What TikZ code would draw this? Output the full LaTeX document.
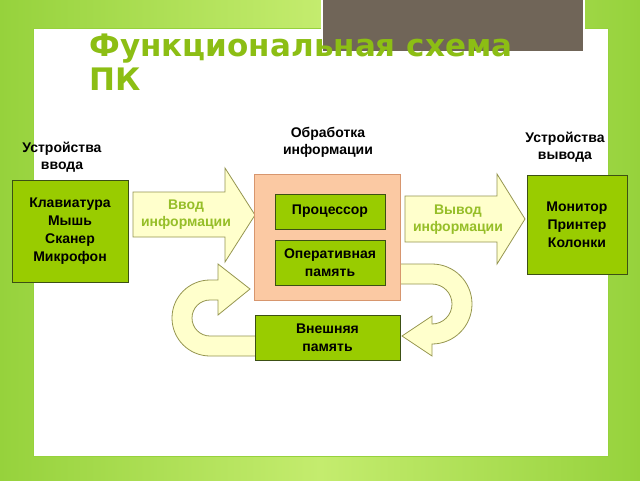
\documentclass[tikz,border=0pt]{standalone}
\usepackage{fontspec}
\setmainfont{Liberation Sans}
\newfontfamily\titlefont{DejaVu Sans}
\usetikzlibrary{positioning}
\definecolor{limeBg}{RGB}{196,236,110}
\definecolor{limeEdge}{RGB}{150,210,60}
\definecolor{boxGreen}{RGB}{153,204,0}
\definecolor{boxBorder}{RGB}{60,80,20}
\definecolor{titleGreen}{RGB}{140,190,20}
\definecolor{arrowFill}{RGB}{255,255,204}
\definecolor{arrowBorder}{RGB}{150,150,80}
\definecolor{arrowText}{RGB}{150,190,40}
\definecolor{peach}{RGB}{251,201,163}
\definecolor{peachBorder}{RGB}{215,150,110}
\definecolor{taupe}{RGB}{112,101,88}
\tikzstyle{greenBox} = [draw=boxBorder, fill=boxGreen, thick, font=\bfseries\fontsize{14}{18}\selectfont, align=center, inner sep=0pt]
\tikzstyle{bigArrow} = [draw=arrowBorder, fill=arrowFill, thick, line join=miter]
\tikzstyle{arrowLabel} = [color=arrowText, font=\bfseries\fontsize{14}{17}\selectfont, align=center]
\tikzstyle{heading} = [font=\bfseries\fontsize{14}{17}\selectfont, align=center]
\begin{document}
\begin{tikzpicture}[x=1pt, y=-1pt]
  \useasboundingbox (0,0) rectangle (640,480);
  % background
  \shade[left color=limeEdge, right color=limeEdge, middle color=limeBg] (0,0) rectangle (640,480);
  \filldraw[fill=white, draw=limeEdge, thick] (33,28) rectangle (608,456);
  \filldraw[fill=taupe, draw=white, line width=2pt] (322,-2) rectangle (584,52);
  \node[anchor=west, color=titleGreen, font=\titlefont\bfseries\fontsize{31}{34}\selectfont, align=left] (title) at (86,62) {Функциональная схема\\ПК};

  % headings
  \node[heading] (inHead) at (62,157) {Устройства\\ввода};
  \node[heading] (procHead) at (328,142) {Обработка\\информации};
  \node[heading] (outHead) at (565,147) {Устройства\\вывода};

  % input / output devices
  \node[greenBox, minimum width=116, minimum height=102] (input) at (70,231) {Клавиатура\\Мышь\\Сканер\\Микрофон};
  \node[greenBox, minimum width=100, minimum height=99] (output) at (577,224.5) {Монитор\\Принтер\\Колонки};

  % big arrows
  \draw[bigArrow] (133,192) -- (225,192) -- (225,168) -- (255,215) -- (225,262) -- (225,237) -- (133,237) -- cycle;
  \node[arrowLabel] (inLabel) at (186,215) {Ввод\\информации};
  \draw[bigArrow] (405,196) -- (497,196) -- (497,174) -- (525,219) -- (497,264) -- (497,242) -- (405,242) -- cycle;
  \node[arrowLabel] (outLabel) at (458,220) {Вывод\\информации};

  % curved arrows
  \draw[bigArrow] (256,356) -- (210,356) arc[start angle=90, end angle=270, radius=38]
    -- (218,280) -- (218,264) -- (250,289) -- (218,315) -- (218,300) -- (210,300)
    arc[start angle=270, end angle=90, radius=18] -- (256,336) -- cycle;
  \draw[bigArrow] (398,264) -- (432,264) arc[start angle=-90, end angle=90, radius=40]
    -- (432,356) -- (402,336) -- (432,316) -- (432,324)
    arc[start angle=90, end angle=-90, radius=20] -- (398,284) -- cycle;

  % processing block
  \filldraw[fill=peach, draw=peachBorder, thick] (254,174) rectangle (400,300);
  \node[greenBox, minimum width=110, minimum height=35] (cpu) at (330,211.5) {Процессор};
  \node[greenBox, minimum width=110, minimum height=45] (ram) at (330,262.5) {Оперативная\\память};
  \node[greenBox, minimum width=145, minimum height=45] (disk) at (327.5,337.5) {Внешняя\\память};
\end{tikzpicture}
\end{document}
